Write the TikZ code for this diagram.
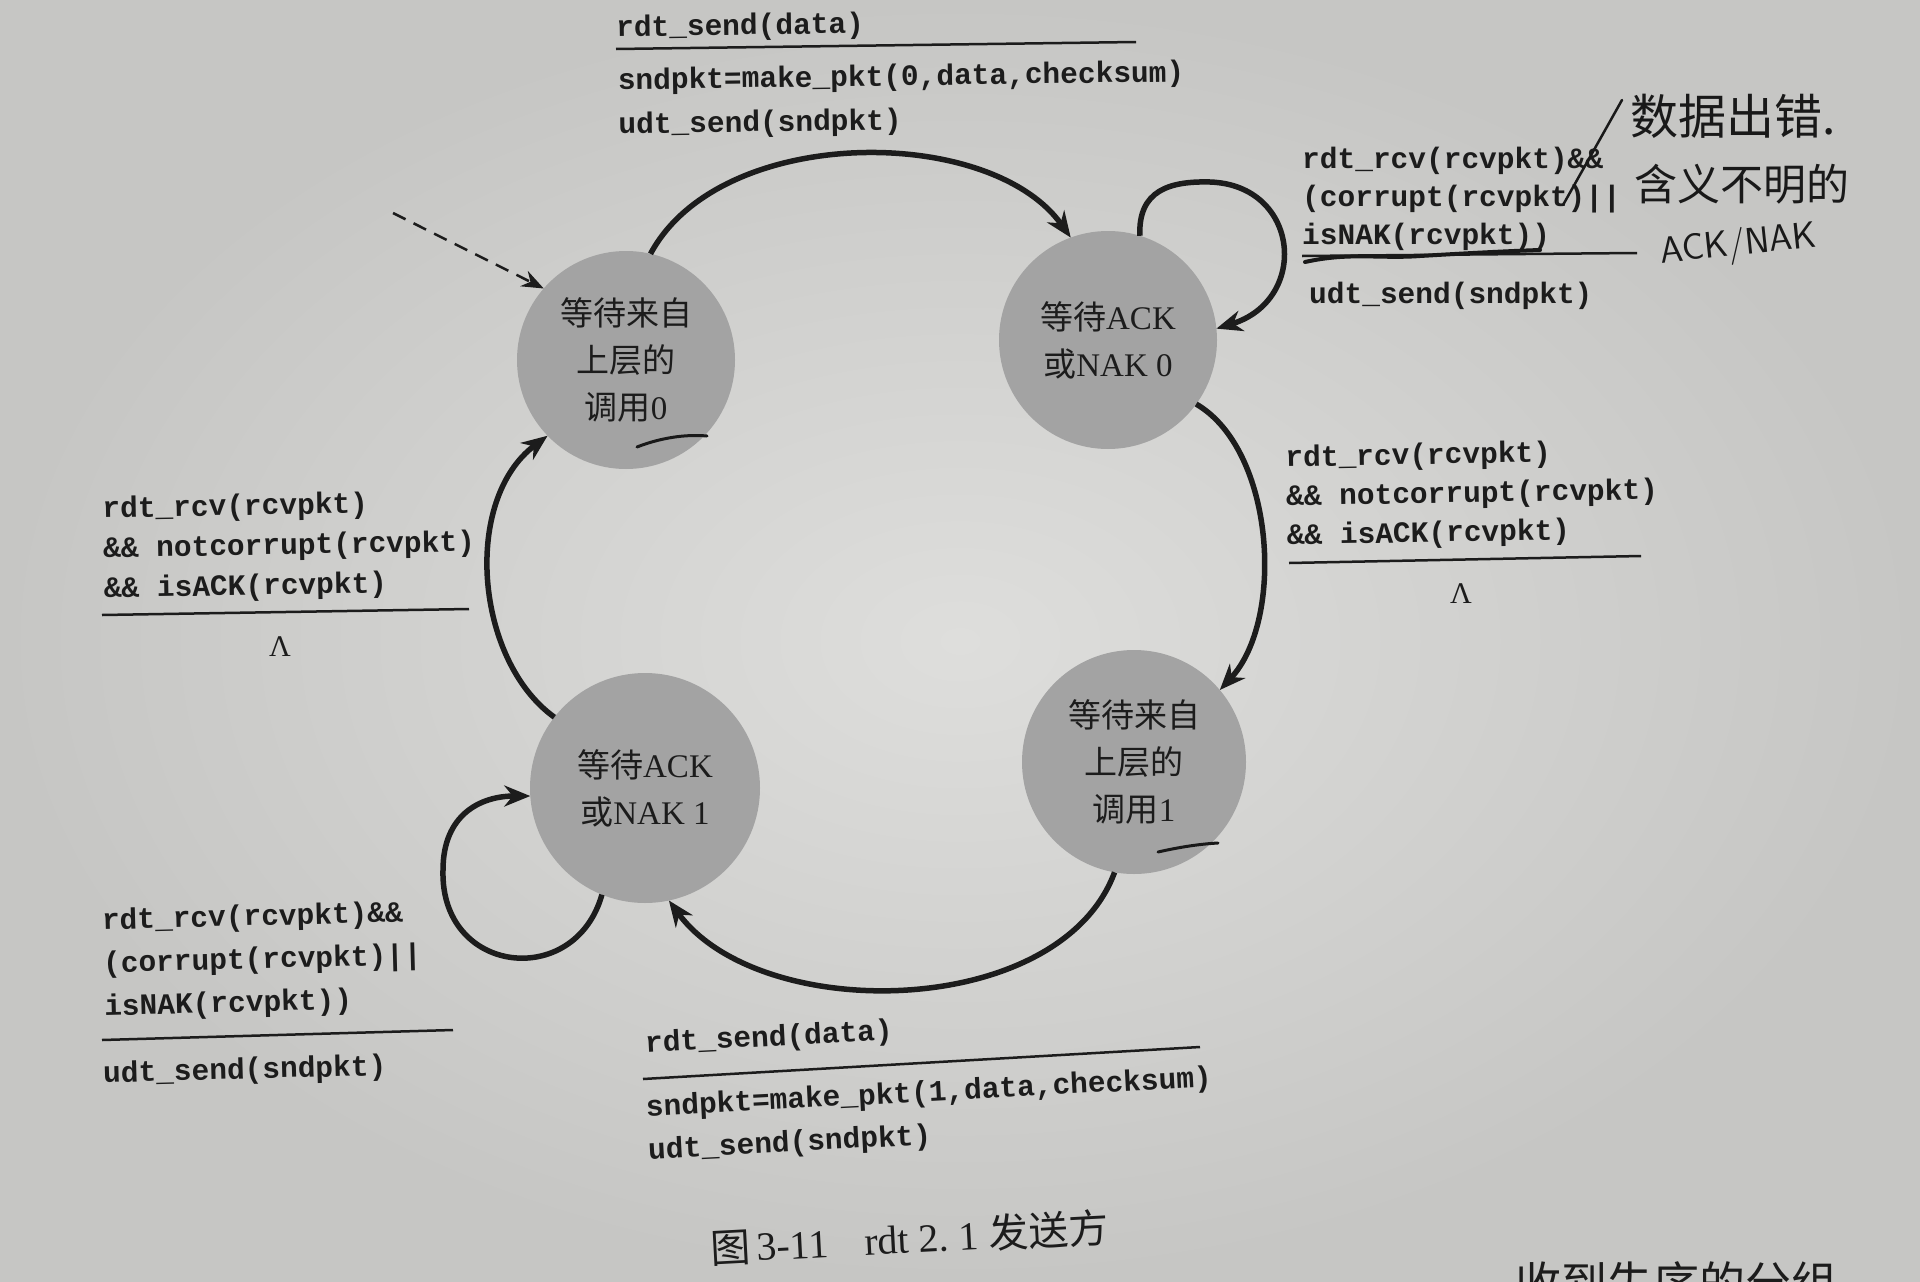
\documentclass[tikz,border=0pt]{standalone}
\usepackage{fontspec}
\setmainfont{Liberation Serif}
\setmonofont{Liberation Mono}
\newfontfamily\cjk{Noto Sans CJK SC}
\usetikzlibrary{arrows.meta}
\definecolor{paper}{RGB}{222,222,220}
\definecolor{paperedge}{RGB}{198,198,196}
\definecolor{statefill}{RGB}{163,163,163}
\definecolor{ink}{RGB}{28,28,28}
\definecolor{pen}{RGB}{25,25,25}
\begin{document}
\begin{tikzpicture}[x=1pt,y=-1pt,
  fsmstate/.style={circle,fill=statefill,inner sep=0pt,outer sep=0pt,align=center,text=ink,
    font=\fontsize{33}{47}\selectfont},
  fsmarrow/.style={line width=5.5pt,draw=ink,-{Stealth[length=26pt,width=21pt]}},
  codetxt/.style={font=\ttfamily\bfseries\fontsize{29.5}{40}\selectfont,text=ink,anchor=west,inner sep=0pt,align=left},
  sepline/.style={line width=2.5pt,draw=ink},
  handtxt/.style={text=pen,inner sep=0pt,anchor=west},
  handline/.style={draw=pen,line cap=round}
]
\useasboundingbox (0,0) rectangle (1920,1282);
\shade[inner color=paper,outer color=paperedge] (0,0) rectangle (1920,1282);

% states
\node[fsmstate,minimum size=218pt] (s0) at (626,360) {{\cjk 等待来自}\\{\cjk 上层的}\\{\cjk 调用}0};
\node[fsmstate,minimum size=218pt] (s1) at (1108,340) {{\cjk 等待}ACK\\{\cjk 或}NAK 0};
\node[fsmstate,minimum size=224pt] (s2) at (1134,762) {{\cjk 等待来自}\\{\cjk 上层的}\\{\cjk 调用}1};
\node[fsmstate,minimum size=230pt] (s3) at (645,788) {{\cjk 等待}ACK\\{\cjk 或}NAK 1};

% initial arrow
\coordinate (init) at (393,213);
\draw[draw=ink,line width=2.5pt,dash pattern=on 14pt off 9pt,-{Stealth[length=22pt,width=17pt]}] (init) -- (s0.139);

% transitions
\draw[fsmarrow] (s0.77) .. controls (720,124) and (990,124) .. (s1.110);
\draw[fsmarrow] (s1.73) .. controls (1138,190) and (1170,181) .. (1210,182)
                .. controls (1300,185) and (1310,300) .. (s1.6);
\draw[fsmarrow] (s1.-36) .. controls (1275,450) and (1285,620) .. (s2.40);
\draw[fsmarrow] (s2.260) .. controls (1060,1020) and (760,1025) .. (s3.282);
\draw[fsmarrow] (s3.248) .. controls (575,990) and (440,975) .. (443,870)
                .. controls (443,815) and (480,796) .. (s3.184);
\draw[fsmarrow] (s3.142) .. controls (475,660) and (462,500) .. (s0.224);

% top label
\node[codetxt,rotate=0.8] (a1) at (616,29) {rdt\_send(data)};
\coordinate (a1l) at (616,49); \coordinate (a1r) at (1136,42);
\draw[sepline] (a1l) -- (a1r);
\node[codetxt,rotate=0.8,font=\ttfamily\bfseries\fontsize{29.5}{44}\selectfont] (a2) at (618,104)
  {sndpkt=make\_pkt(0,data,checksum)\\udt\_send(sndpkt)};

% S1 self loop label
\node[codetxt,font=\ttfamily\bfseries\fontsize{29.5}{38}\selectfont] (b1) at (1302,199)
  {rdt\_rcv(rcvpkt)\&\&\\(corrupt(rcvpkt)||\\isNAK(rcvpkt))};
\coordinate (b1l) at (1302,256); \coordinate (b1r) at (1637,253);
\draw[sepline] (b1l) -- (b1r);
\node[codetxt] (b2) at (1309,296) {udt\_send(sndpkt)};

% right label
\node[codetxt,rotate=1,font=\ttfamily\bfseries\fontsize{29.5}{39}\selectfont] (c1) at (1286,498)
  {rdt\_rcv(rcvpkt)\\\&\& notcorrupt(rcvpkt)\\\&\& isACK(rcvpkt)};
\coordinate (c1l) at (1289,563); \coordinate (c1r) at (1641,556);
\draw[sepline] (c1l) -- (c1r);
\node[text=ink,font=\fontsize{30}{30}\selectfont,inner sep=0pt] (c2) at (1461,594) {Λ};

% left label
\node[codetxt,rotate=1,font=\ttfamily\bfseries\fontsize{29.5}{40}\selectfont] (d1) at (103,550)
  {rdt\_rcv(rcvpkt)\\\&\& notcorrupt(rcvpkt)\\\&\& isACK(rcvpkt)};
\coordinate (d1l) at (102,615); \coordinate (d1r) at (469,609);
\draw[sepline] (d1l) -- (d1r);
\node[text=ink,font=\fontsize{30}{30}\selectfont,inner sep=0pt] (d2) at (280,647) {Λ};

% bottom-left label
\node[codetxt,rotate=1.5,font=\ttfamily\bfseries\fontsize{29.5}{43}\selectfont] (e1) at (103,965)
  {rdt\_rcv(rcvpkt)\&\&\\(corrupt(rcvpkt)||\\isNAK(rcvpkt))};
\coordinate (e1l) at (102,1040); \coordinate (e1r) at (453,1030);
\draw[sepline] (e1l) -- (e1r);
\node[codetxt,rotate=1.5] (e2) at (103,1075) {udt\_send(sndpkt)};

% bottom label
\node[codetxt,rotate=3] (f1) at (645,1045) {rdt\_send(data)};
\coordinate (f1l) at (643,1079); \coordinate (f1r) at (1200,1047);
\draw[sepline] (f1l) -- (f1r);
\node[codetxt,rotate=3,font=\ttfamily\bfseries\fontsize{29.5}{43}\selectfont] (f2) at (647,1130)
  {sndpkt=make\_pkt(1,data,checksum)\\udt\_send(sndpkt)};

% caption
\node[text=ink,inner sep=0pt,anchor=west,rotate=3,font=\fontsize{40}{40}\selectfont] (cap) at (710,1248)
  {{\cjk 图}\,3-11\hspace{36pt}rdt 2.\ 1 {\cjk 发送方}};

% cut-off text at the bottom edge
\begin{scope}
\clip (0,0) rectangle (1920,1282);
\node[text=ink,inner sep=0pt,anchor=base east,font=\cjk\fontsize{46}{46}\selectfont] (tail) at (1838,1300) {收到失序的分组};
\end{scope}

% handwritten notes
\draw[handline,line width=3pt] (637,447) .. controls (660,438) and (685,434) .. (707,436);
\draw[handline,line width=3pt] (1158,852) .. controls (1180,847) and (1200,844) .. (1218,843);
\draw[handline,line width=4pt] (1305,262) .. controls (1350,252) and (1380,259) .. (1420,256)
  .. controls (1470,253) and (1510,251) .. (1540,250);
\coordinate (slA) at (1563,205); \coordinate (slB) at (1622,100);
\draw[handline,line width=2.5pt] (slA) -- (slB);
\node[handtxt,font=\cjk\fontsize{48}{48}\selectfont] (h1) at (1630,116) {数据出错.};
\node[handtxt,font=\cjk\fontsize{43}{43}\selectfont] (h2) at (1634,184) {含义不明的};
\node[handtxt,rotate=6,font=\sffamily\fontsize{37}{37}\selectfont] (h3) at (1660,254) {ACK/NAK};
\end{tikzpicture}
\end{document}
